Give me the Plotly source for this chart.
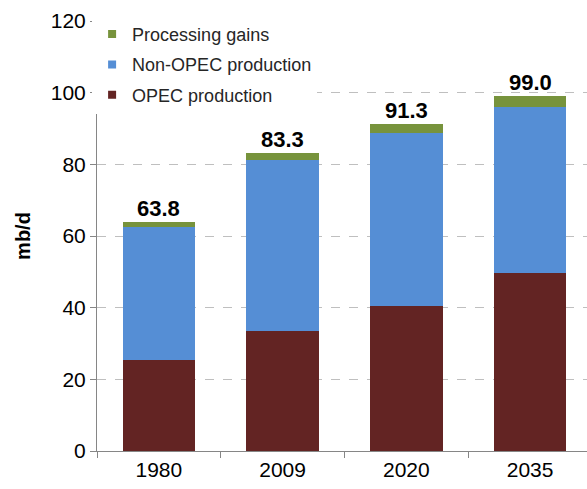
import plotly.graph_objects as go

years = ["1980", "2009", "2020", "2035"]
opec = [25.5, 33.4, 40.4, 49.6]
non_opec = [36.9, 47.7, 48.3, 46.4]
gains = [1.4, 2.2, 2.6, 3.0]
y_ticks = [0, 20, 40, 60, 80, 100, 120]

c_opec = "#632423"
c_non = "#558ED5"
c_gain = "#77933C"

fig = go.Figure()
series = [("OPEC production", opec, c_opec),
          ("Non-OPEC production", non_opec, c_non),
          ("Processing gains", gains, c_gain)]
for name, vals, col in series:
    fig.add_trace(go.Bar(x=years, y=vals, name=name, marker_color=col,
                         marker_line_width=0, showlegend=False))
# legend entries (small square markers), top to bottom: gains, non-OPEC, OPEC
for name, vals, col in reversed(series):
    fig.add_trace(go.Scatter(x=[years[0]], y=[None], mode="markers", name=name,
                             legendgroup=name,
                             marker=dict(symbol="square", size=8, color=col),
                             showlegend=True))

totals = [a + b + c for a, b, c in zip(opec, non_opec, gains)]
for i, t in enumerate(totals):
    fig.add_annotation(x=i, y=t, xref="x", yref="y", text=f"<b>{t:.1f}</b>",
                       showarrow=False, yanchor="bottom", yshift=-1,
                       font=dict(family="Liberation Sans", size=22, color="#000000"))

fig.update_layout(
    barmode="stack",
    bargap=0.415,
    width=587, height=489,
    margin=dict(l=97, r=0, t=21, b=38),
    paper_bgcolor="white", plot_bgcolor="white",
    font=dict(family="Liberation Sans", color="#000000"),
    legend=dict(x=-0.01, y=1.012, xanchor="left", yanchor="top",
                traceorder="grouped", tracegroupgap=4, bgcolor="white",
                font=dict(size=18, color="#262626"),
                itemwidth=30),
    xaxis=dict(type="category", range=[-0.5, 3.46], showline=True, linecolor="#868686",
               linewidth=1, ticks="outside", tickson="boundaries", ticklen=6,
               tickcolor="#868686",
               tickfont=dict(size=21, color="#000000"), showgrid=False, fixedrange=True),
    yaxis=dict(range=[0, 120], tickvals=y_ticks, showline=True, linecolor="#868686",
               linewidth=1, ticks="outside", ticklen=6, tickcolor="#868686",
               tickfont=dict(size=21, color="#000000"),
               showgrid=True, gridcolor="#BFBFBF", griddash="dash", gridwidth=1,
               zeroline=False,
               title=dict(text="<b>mb/d</b>", font=dict(size=20), standoff=14)),
)

fig.write_html("out.html")
